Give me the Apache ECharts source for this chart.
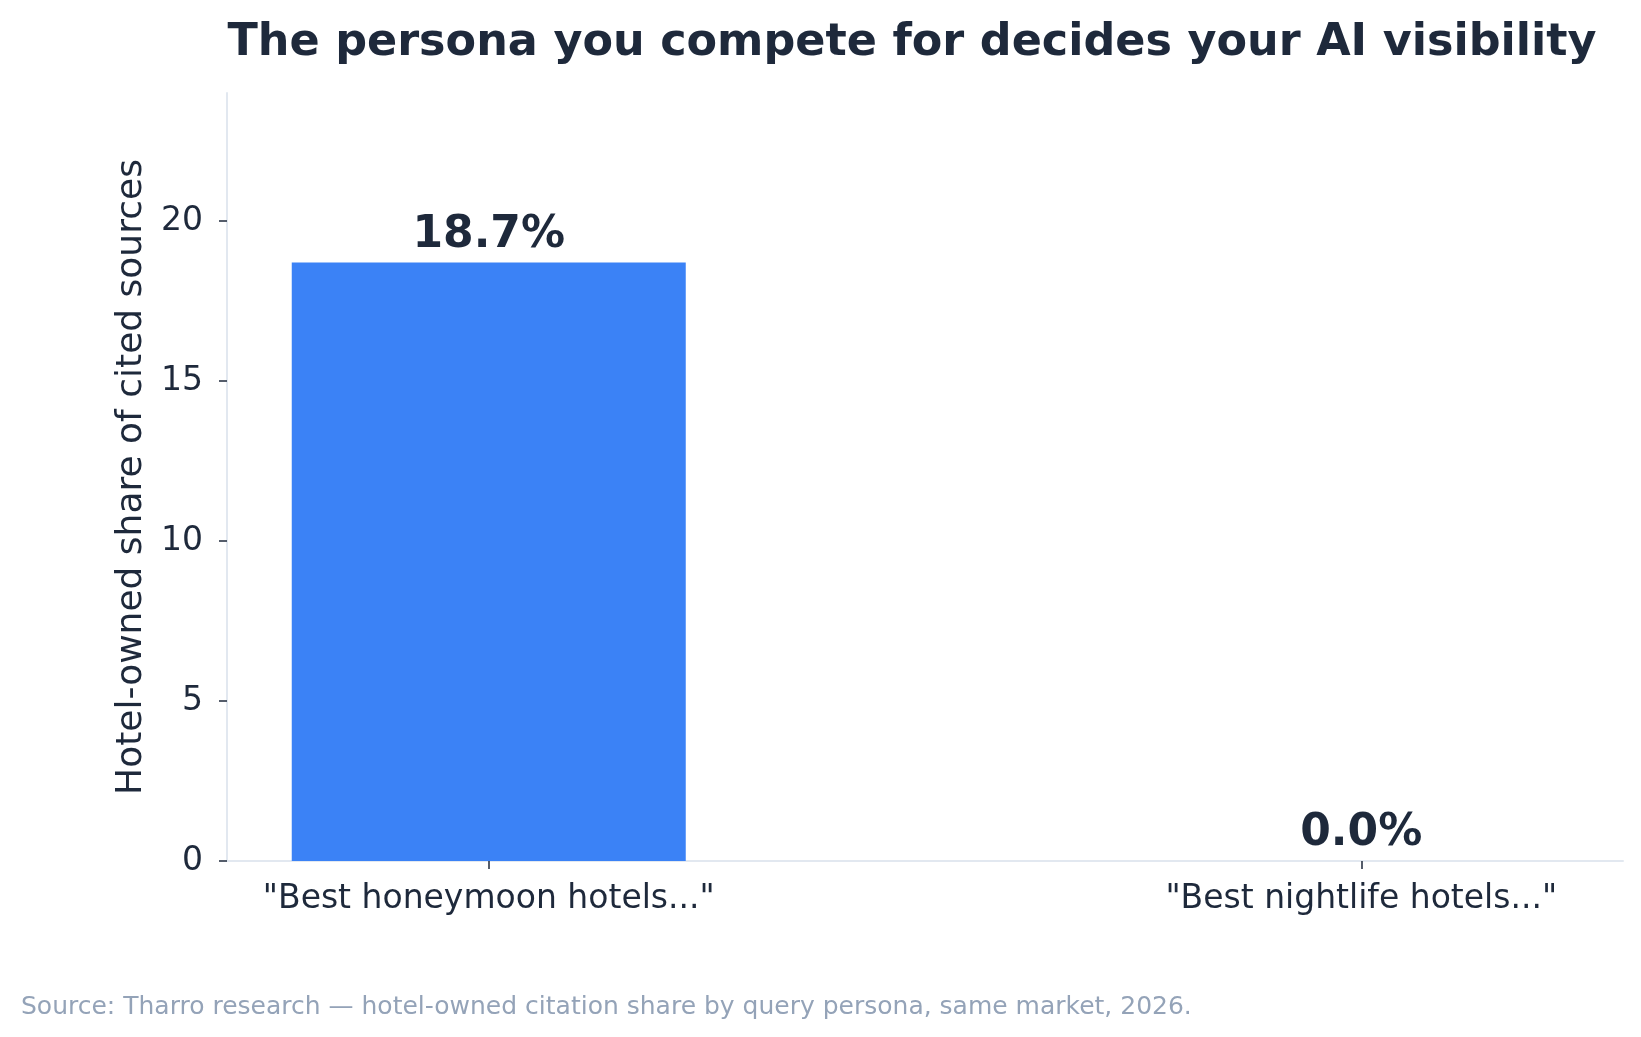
<!DOCTYPE html>
<html>
<head>
<meta charset="utf-8">
<script src="https://cdn.jsdelivr.net/npm/echarts@6/dist/echarts.min.js"></script>
<style>
  html, body { margin: 0; padding: 0; background: #fff; }
  #chart { width: 1641px; height: 1037px; }
</style>
</head>
<body>
<div id="chart"></div>
<script>
// data
var categories = ['"Best honeymoon hotels..."', '"Best nightlife hotels..."'];
var shares = [18.7, 0.0];
var yTicks = [0, 5, 10, 15, 20];

var chart = echarts.init(document.getElementById('chart'));
var font = 'DejaVu Sans';
var ink = '#1e293b';

var option = {
    animation: false,
    title: {
        text: 'The persona you compete for decides your AI visibility',
        left: 907, top: 16, textAlign: 'center',
        textStyle: { fontFamily: font, fontSize: 44.5, fontWeight: 'bold', color: ink }
    },
    graphic: [{
        type: 'text', left: 21, top: 995,
        style: {
            text: 'Source: Tharro research \u2014 hotel-owned citation share by query persona, same market, 2026.',
            fontFamily: font, fontSize: 25, fill: '#94a3b8'
        }
    }],
    grid: { left: 227, right: 18, top: 93, bottom: 176, containLabel: false },
    xAxis: {
        type: 'value', min: -0.3, max: 1.3,
        splitLine: { show: false },
        axisLine: { show: true, onZero: false, lineStyle: { color: '#e2e8f0', width: 2 } },
        axisTick: { show: true, customValues: [0, 1], length: 8, lineStyle: { color: ink, width: 1.5 } },
        axisLabel: {
            customValues: [0, 1],
            formatter: function (v) { return categories[Math.round(v)]; },
            fontFamily: font, fontSize: 33, color: ink, margin: 22
        }
    },
    yAxis: {
        type: 'value', min: 0, max: 24,
        name: 'Hotel-owned share of cited sources',
        nameLocation: 'middle', nameGap: 77,
        nameTextStyle: { fontFamily: font, fontSize: 36, color: ink },
        splitLine: { show: false },
        axisLine: { show: true, onZero: false, lineStyle: { color: '#e2e8f0', width: 2 } },
        axisTick: { show: true, customValues: yTicks, length: 8, lineStyle: { color: ink, width: 1.5 } },
        axisLabel: {
            customValues: yTicks,
            fontFamily: font, fontSize: 33, color: ink, margin: 24
        }
    },
    series: [{
        type: 'bar',
        data: shares.map(function (v, i) { return [i, v]; }),
        barWidth: 394,
        itemStyle: { color: '#3b82f6' },
        label: {
            show: true, position: 'top', distance: 5,
            formatter: function (p) { return p.value[1].toFixed(1) + '%'; },
            fontFamily: font, fontSize: 44, fontWeight: 'bold', color: ink
        }
    }]
};

chart.setOption(option);
</script>
</body>
</html>
